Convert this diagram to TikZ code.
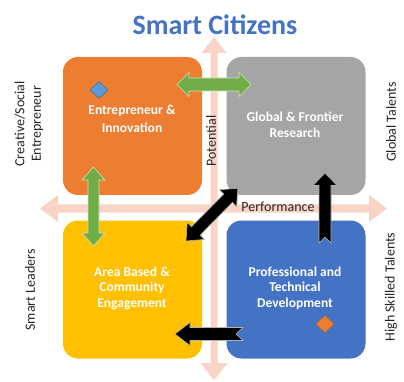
\documentclass[tikz,border=0pt]{standalone}
\usepackage{fontspec}
\setmainfont{Carlito}
\usetikzlibrary{shapes.geometric}
\definecolor{qorange}{HTML}{ED7D31}
\definecolor{qgray}{HTML}{A5A5A5}
\definecolor{qyellow}{HTML}{FFC000}
\definecolor{qblue}{HTML}{4472C4}
\definecolor{arrgreen}{HTML}{70AD47}
\definecolor{axiscol}{HTML}{F9D3C6}
\definecolor{diamblue}{HTML}{5B9BD5}
\definecolor{titleblue}{HTML}{4472C4}
\begin{document}
\begin{tikzpicture}[x=1pt,y=-1pt,
  quad/.style={rounded corners=15pt, minimum width=139pt, minimum height=138pt, inner sep=0pt, draw=none},
  boxtext/.style={text=white, align=center, inner sep=0pt},
  side/.style={font=\fontsize{14}{16.5}\selectfont, text=black!85, align=center, rotate=90, inner sep=0pt},
  axisfill/.style={fill=axiscol},
  garrow/.style={fill=arrgreen, draw=arrgreen!35!white, line width=0.6pt},
  barrow/.style={fill=black, draw=white!70!black, line width=0.6pt},
  diam/.style={diamond, minimum width=18pt, minimum height=17pt, inner sep=0pt, line width=0.5pt},
]
\useasboundingbox (0,0) rectangle (404,382);
\fill[white] (0,0) rectangle (404,382);

% axes
\fill[axisfill] (214,37) -- (226.5,53) -- (217.5,53) -- (217.5,363) -- (227.5,363) -- (214,380) -- (200.5,363) -- (210.5,363) -- (210.5,53) -- (201.5,53) -- cycle;
\fill[axisfill] (40,208.5) -- (58,195) -- (58,204.5) -- (369,204.5) -- (369,195) -- (387,208.5) -- (369,222) -- (369,212.5) -- (58,212.5) -- (58,222) -- cycle;

% quadrants
\node[quad, fill=qorange] (ei) at (132.5,126) {};
\node[quad, fill=qgray] (gfr) at (296,126) {};
\node[quad, fill=qyellow] (abc) at (132.5,289.5) {};
\node[quad, fill=qblue] (ptd) at (296,289.5) {};

% quadrant texts
\node[boxtext, font=\fontsize{13.5}{18}\selectfont\bfseries] (eit) at (132,119) {Entrepreneur \&\\Innovation};
\node[boxtext, font=\fontsize{13.5}{16}\selectfont\bfseries] (gfrt) at (295,125) {Global \& Frontier\\Research};
\node[boxtext, font=\fontsize{13.5}{15.5}\selectfont\bfseries] (abct) at (132,288) {Area Based \&\\Community\\Engagement};
\node[boxtext, font=\fontsize{13.5}{15.5}\selectfont\bfseries] (ptdt) at (295,288) {Professional and\\Technical\\Development};

% diamonds
\node[diam, fill=diamblue, draw=diamblue!70!black] (d1) at (99,90) {};
\node[diam, fill=qorange, draw=qorange!80!black] (d2) at (325,324) {};

% green double arrows
\begin{scope}[shift={(177,84.5)}]
\draw[garrow] (0,0) -- (12,-12) -- (12,-6.5) -- (62,-6.5) -- (62,-12) -- (74,0) -- (62,12) -- (62,6.5) -- (12,6.5) -- (12,12) -- cycle;
\end{scope}
\begin{scope}[shift={(93.5,167)}]
\draw[garrow] (0,0) -- (11.5,13) -- (5.5,13) -- (5.5,66) -- (11.5,66) -- (0,79) -- (-11.5,66) -- (-5.5,66) -- (-5.5,13) -- (-11.5,13) -- cycle;
\end{scope}

% black diagonal double arrow
\begin{scope}[shift={(186,241)}, rotate=45.5]
\draw[barrow] (0,0) -- (14,-12) -- (14,-6) -- (60,-6) -- (60,-12) -- (74,0) -- (60,12) -- (60,6) -- (14,6) -- (14,12) -- cycle;
\end{scope}

% black notched arrows
\draw[barrow] (325,173) -- (337,185.5) -- (331,185.5) -- (331,243) -- (325,237) -- (319,243) -- (319,185.5) -- (313,185.5) -- cycle;
\draw[barrow] (175,334) -- (190,322.5) -- (190,327.5) -- (243,327.5) -- (236,334) -- (243,340.5) -- (190,340.5) -- (190,345.5) -- cycle;

% title
\node[font=\fontsize{28}{30}\selectfont\bfseries, text=titleblue, inner sep=0pt] (title) at (215,25) {Smart Citizens};

% side labels
\node[side] (cse) at (29,124) {Creative/Social\\Entrepreneur};
\node[side] (gt) at (391,122) {Global Talents};
\node[side] (pot) at (211,141) {Potential};
\node[font=\fontsize{14}{16.5}\selectfont, text=black!85, inner sep=0pt] (perf) at (278,207) {Performance};
\node[side] (sl) at (30,290) {Smart Leaders};
\node[side] (hst) at (391,287) {High Skilled Talents};
\end{tikzpicture}
\end{document}
